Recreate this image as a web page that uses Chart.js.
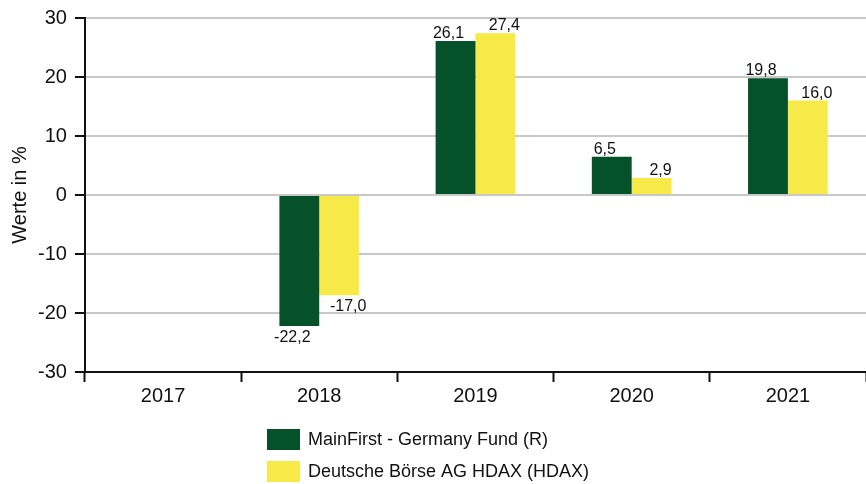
<!DOCTYPE html>
<html>
<head>
<meta charset="utf-8">
<script src="https://cdn.jsdelivr.net/npm/chart.js@4"></script>
<style>
  html, body { margin: 0; padding: 0; background: #fff; }
  #wrap { width: 866px; height: 484px; }
</style>
</head>
<body>
<div id="wrap"><canvas id="chart"></canvas></div>
<script>
const years = ['2017', '2018', '2019', '2020', '2021'];
const fundName = 'MainFirst - Germany Fund (R)';
const indexName = 'Deutsche Börse AG HDAX (HDAX)';
const fundValues = [null, -22.2, 26.1, 6.5, 19.8];
const indexValues = [null, -17.0, 27.4, 2.9, 16.0];
const yTicks = [-30, -20, -10, 0, 10, 20, 30];

const green = '#05512a';
const yellow = '#f7e948';
const font = 'Arial, "Liberation Sans", sans-serif';

// value labels: green ones a bit left, yellow ones a bit right
const valueLabels = {
  id: 'valueLabels',
  afterDatasetsDraw(chart) {
    const ctx = chart.ctx;
    ctx.save();
    ctx.font = '16px ' + font;
    ctx.fillStyle = '#111';
    ctx.textAlign = 'center';
    ctx.textBaseline = 'alphabetic';
    chart.data.datasets.forEach((ds, i) => {
      const shift = i === 0 ? -7 : 9;
      chart.getDatasetMeta(i).data.forEach((bar, j) => {
        const v = ds.data[j];
        if (v === null) return;
        const txt = v.toFixed(1).replace('.', ',');
        const y = v >= 0 ? bar.y - 3 : bar.y + 16;
        ctx.fillText(txt, bar.x + shift, y);
      });
    });
    ctx.restore();
  }
};

// stacked legend under the chart
const stackedLegend = {
  id: 'stackedLegend',
  afterDraw(chart) {
    const ctx = chart.ctx;
    ctx.save();
    ctx.font = '18px ' + font;
    ctx.textBaseline = 'middle';
    ctx.textAlign = 'left';
    chart.data.datasets.forEach((ds, i) => {
      const y = 429 + i * 32;
      ctx.fillStyle = ds.backgroundColor;
      ctx.fillRect(267, y, 33, 21);
      ctx.fillStyle = '#111';
      ctx.fillText(ds.label, 308, y + 11);
    });
    ctx.restore();
  }
};

new Chart(document.getElementById('chart'), {
  type: 'bar',
  data: {
    labels: years,
    datasets: [
      { label: fundName, data: fundValues, backgroundColor: green },
      { label: indexName, data: indexValues, backgroundColor: yellow }
    ]
  },
  options: {
    responsive: true,
    maintainAspectRatio: false,
    animation: false,
    devicePixelRatio: 1,
    layout: { padding: { top: 4, right: 0, bottom: 74, left: 0 } },
    datasets: {
      bar: { categoryPercentage: 0.51, barPercentage: 1.0 }
    },
    scales: {
      x: {
        offset: true,
        grid: {
          offset: true,
          drawOnChartArea: false,
          drawTicks: true,
          tickLength: 10,
          tickColor: '#111',
          tickWidth: 2
        },
        border: { display: true, color: '#111', width: 2 },
        ticks: { color: '#111', font: { size: 20, family: font }, padding: 2 }
      },
      y: {
        min: -30,
        max: 30,
        afterBuildTicks(axis) { axis.ticks = yTicks.map(v => ({ value: v })); },
        grid: {
          color: '#c8c8c8',
          lineWidth: 2,
          tickColor: '#111',
          tickWidth: 2,
          tickLength: 10
        },
        border: { display: true, color: '#111', width: 2 },
        ticks: { color: '#111', font: { size: 20, family: font, lineHeight: 1.0 }, padding: 8 },
        title: {
          display: true,
          text: 'Werte in %',
          color: '#111',
          font: { size: 20, family: font },
          padding: { top: 8, bottom: -2 }
        }
      }
    },
    plugins: {
      legend: { display: false },
      tooltip: { enabled: false }
    }
  },
  plugins: [valueLabels, stackedLegend]
});
</script>
</body>
</html>
